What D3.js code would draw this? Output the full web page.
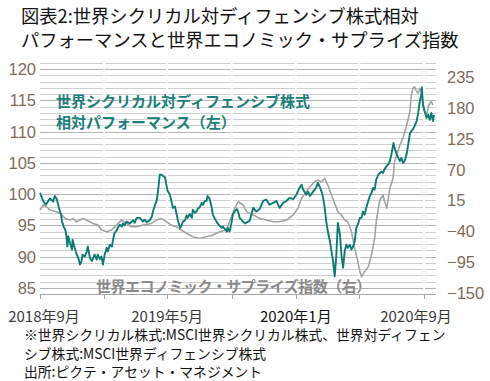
<!DOCTYPE html>
<html><head><meta charset="utf-8">
<script src="https://cdn.jsdelivr.net/npm/d3@7"></script>
<style>
html,body{margin:0;padding:0;background:#fff;}
svg{display:block;font-family:"Noto Sans CJK JP","Noto Sans",sans-serif;}
</style></head>
<body>
<svg id="c" width="490" height="381"></svg>
<script>
const titleLines = ["図表2:世界シクリカル対ディフェンシブ株式相対","パフォーマンスと世界エコノミック・サプライズ指数"];
const noteLines = ["※世界シクリカル株式:MSCI世界シクリカル株式、世界対ディフェン","シブ株式:MSCI世界ディフェンシブ株式","出所:ピクテ・アセット・マネジメント"];
const leftTicks = [85,90,95,100,105,110,115,120];
const rightTicks = [-150,-95,-40,15,70,125,180,235];
const xTickDates = ["18-09-01","19-01-01","19-05-01","19-09-01","20-01-01","20-05-01","20-09-01"];
const xLabels = [["18-09-01","2018年9月"],["19-05-01","2019年5月"],["20-01-01","2020年1月"],["20-09-01","2020年9月"]];
const cyclicalLabel = ["世界シクリカル対ディフェンシブ株式","相対パフォーマンス（左）"];
const surpriseLabel = "世界エコノミック・サプライズ指数（右）";

// relative performance (left axis)
const relPerf = [
["18-09-01",100.2],["18-09-07",98.9],["18-09-12",98.3],["18-09-16",98.8],["18-09-20",99.3],["18-09-26",98.8],["18-09-29",99.7],["18-10-03",99.2],["18-10-07",97.8],["18-10-11",96.7],["18-10-13",95.6],["18-10-16",94.8],["18-10-19",94.3],["18-10-21",93.5],["18-10-23",91.6],["18-10-25",93.2],["18-10-28",92.2],["18-11-01",91.1],["18-11-02",92.7],["18-11-06",91.4],["18-11-10",90.3],["18-11-14",89.5],["18-11-16",88.7],["18-11-19",89.2],["18-11-21",90.3],["18-11-25",90.0],["18-11-29",90.8],["18-12-01",91.6],["18-12-05",89.8],["18-12-09",89.3],["18-12-14",90.3],["18-12-18",89.5],["18-12-20",90.3],["18-12-24",89.6],["18-12-27",90.0],["18-12-30",88.7],
["19-01-02",90.3],["19-01-06",91.4],["19-01-08",90.8],["19-01-12",91.9],["19-01-16",91.6],["19-01-18",92.7],["19-01-21",93.8],["19-01-25",94.2],["19-01-27",94.6],["19-01-31",95.1],["19-02-04",94.8],["19-02-06",95.3],["19-02-09",95.0],["19-02-13",95.6],["19-02-19",95.3],["19-02-23",95.6],["19-02-25",95.8],["19-02-28",95.4],["19-03-04",96.2],["19-03-10",96.2],["19-03-16",95.6],["19-03-19",95.9],["19-03-23",95.5],["19-03-29",95.8],["19-04-02",96.4],["19-04-04",97.2],["19-04-08",98.3],["19-04-11",98.9],["19-04-13",100.0],["19-04-15",101.5],["19-04-17",103.1],["19-04-21",103.1],["19-04-23",102.9],["19-04-27",102.7],["19-04-30",101.3],["19-05-02",100.5],["19-05-06",100.0],["19-05-10",98.6],["19-05-12",97.8],["19-05-16",98.0],["19-05-20",96.4],["19-05-22",95.6],["19-05-26",94.6],["19-05-29",95.1],["19-05-31",95.6],["19-06-04",95.8],["19-06-07",96.6],["19-06-09",96.2],["19-06-13",96.8],["19-06-17",96.2],["19-06-19",97.5],["19-06-23",97.0],["19-06-26",97.2],["19-06-28",97.6],["19-07-02",97.9],["19-07-06",98.6],["19-07-08",98.3],["19-07-12",98.9],["19-07-15",98.9],["19-07-17",99.7],["19-07-21",99.2],["19-07-25",97.8],["19-07-27",96.7],["19-07-31",96.0],["19-08-03",95.6],["19-08-05",95.3],["19-08-09",94.9],["19-08-13",94.6],["19-08-15",94.8],["19-08-19",94.4],["19-08-23",94.0],["19-08-24",94.6],["19-08-28",94.0],["19-09-01",95.6],["19-09-03",96.7],["19-09-07",97.3],["19-09-11",97.6],["19-09-13",97.2],["19-09-16",96.2],["19-09-26",95.3],["19-10-05",95.7],["19-10-12",97.8],["19-10-18",97.2],["19-10-24",97.6],["19-10-31",98.9],["19-11-06",99.1],["19-11-12",98.3],["19-11-19",98.6],["19-11-25",98.9],["19-12-01",97.8],["19-12-08",98.6],["19-12-14",98.9],["19-12-20",99.4],["19-12-27",99.2],
["20-01-02",99.9],["20-01-08",101.0],["20-01-12",101.5],["20-01-15",100.7],["20-01-21",99.9],["20-01-24",100.4],["20-01-28",99.7],["20-02-03",100.4],["20-02-09",101.1],["20-02-12",101.8],["20-02-16",101.1],["20-02-19",100.4],["20-02-22",99.4],["20-02-25",97.8],["20-02-28",95.6],["20-03-02",94.0],["20-03-06",92.4],["20-03-09",90.8],["20-03-12",89.2],["20-03-15",86.8],["20-03-18",90.1],["20-03-21",95.4],["20-03-25",93.5],["20-03-28",90.1],["20-03-31",88.2],["20-04-03",90.8],["20-04-06",91.9],["20-04-09",91.4],["20-04-13",91.9],["20-04-16",91.1],["20-04-19",91.6],["20-04-22",92.4],["20-04-25",94.6],["20-04-28",95.1],["20-05-02",96.2],["20-05-05",96.2],["20-05-08",97.2],["20-05-11",96.7],["20-05-14",97.8],["20-05-18",98.9],["20-05-21",99.7],["20-05-24",100.2],["20-05-27",101.0],["20-05-30",100.7],["20-06-02",102.3],["20-06-06",103.1],["20-06-09",103.4],["20-06-12",103.6],["20-06-15",103.4],["20-06-18",104.0],["20-06-22",104.5],["20-06-25",104.8],["20-06-28",105.3],["20-07-01",106.4],["20-07-04",107.7],["20-07-05",108.2],["20-07-07",107.4],["20-07-11",106.4],["20-07-14",105.8],["20-07-17",105.3],["20-07-20",105.8],["20-07-23",105.0],["20-07-26",105.3],["20-07-30",106.4],["20-08-02",108.0],["20-08-05",109.6],["20-08-08",110.1],["20-08-11",110.4],["20-08-14",110.9],["20-08-18",111.7],["20-08-21",113.0],["20-08-24",114.9],["20-08-27",116.0],["20-08-28",117.1],["20-08-30",114.4],["20-09-02",113.3],["20-09-06",112.2],["20-09-09",112.7],["20-09-12",111.9],["20-09-15",113.0],["20-09-18",111.7],["20-09-20",112.7]
];

// economic surprise index (right axis)
const surprise = [
["18-09-01",-2],["18-09-07",6.8],["18-09-13",4],["18-09-20",-2],["18-10-02",-5],["18-10-09",-8],["18-10-19",-17],["18-10-28",-20],["18-11-03",-17],["18-11-09",-23],["18-11-16",-20],["18-11-22",-17],["18-11-28",-20],["18-12-11",-26],["18-12-21",-29],["18-12-27",-37.7],
["19-01-06",-40.8],["19-01-15",-37.7],["19-01-25",-29],["19-02-03",-20],["19-02-13",-26],["19-02-22",-32],["19-03-04",-32],["19-03-16",-29],["19-04-01",-26],["19-04-11",-20],["19-04-20",-17],["19-04-30",-23],["19-05-09",-29],["19-05-19",-32],["19-05-28",-37.7],["19-06-07",-43.6],["19-06-19",-49.7],["19-07-02",-52.5],["19-07-15",-49.7],["19-07-27",-46.7],["19-08-09",-40.8],["19-08-22",-37.7],["19-08-28",-23],["19-09-04",-5],["19-09-13",12.7],["19-09-23",6.8],["19-09-29",-5],["19-10-12",-11],["19-10-24",-17],["19-11-06",-20],["19-11-19",-23],["19-12-01",-23],["19-12-14",-20],["19-12-27",-11],
["20-01-05",1],["20-01-12",18.7],["20-01-21",30.5],["20-01-31",42.4],["20-02-06",48.4],["20-02-12",51],["20-02-19",48],["20-02-25",54.4],["20-03-02",42],["20-03-09",24.6],["20-03-15",10],["20-03-21",-5],["20-03-28",-11],["20-04-03",-20],["20-04-09",-23],["20-04-16",-40.8],["20-04-22",-70],["20-04-28",-94],["20-05-02",-112],["20-05-05",-121],["20-05-11",-112],["20-05-18",-103],["20-05-24",-82],["20-05-30",-52.5],["20-06-02",-23],["20-06-06",1],["20-06-09",15.7],["20-06-15",24.6],["20-06-18",13],["20-06-22",1],["20-06-25",18],["20-06-28",36.6],["20-07-04",54.4],["20-07-07",84],["20-07-11",96],["20-07-17",113.7],["20-07-23",125.6],["20-07-30",149],["20-08-05",173],["20-08-08",203],["20-08-11",214.8],["20-08-14",217.6],["20-08-18",209],["20-08-21",206],["20-08-24",214.8],["20-08-27",209],["20-08-30",185],["20-09-02",173],["20-09-06",167],["20-09-09",182],["20-09-12",188],["20-09-15",191],["20-09-18",185]
];

const parse = d3.timeParse("%y-%m-%d");
const svg = d3.select("#c");
const plot = {left:40, right:436, top:62, bottom:294};

const x = d3.scaleTime().domain([parse("18-09-01"), parse("20-09-01")]).range([40, 424]);
const yL = d3.scaleLinear().domain([84,121]).range([294,63]);
const yR = d3.scaleLinear().domain([-150,235]).range([293,77]);

// gridlines
const grid = d3.range(84,122,1);
svg.append("g").selectAll("line").data(grid).join("line")
  .attr("x1",plot.left).attr("x2",plot.right)
  .attr("y1",d=>Math.round(yL(d))+0.5).attr("y2",d=>Math.round(yL(d))+0.5)
  .attr("stroke",d=>d%5===0?"#b4b4b4":"#cfcfcf").attr("stroke-width",1);

// white gaps at ticks
const tdates = xTickDates.map(parse);
svg.append("g").selectAll("line").data(tdates.slice(1)).join("line")
  .attr("x1",d=>x(d)).attr("x2",d=>x(d)).attr("y1",plot.top).attr("y2",plot.bottom-1)
  .attr("stroke","#fff").attr("stroke-width",2);

// x axis line & ticks
svg.append("line").attr("x1",plot.left).attr("x2",plot.right).attr("y1",294.5).attr("y2",294.5).attr("stroke","#a6a6a6");
svg.append("g").selectAll("line").data(tdates).join("line")
  .attr("x1",d=>Math.round(x(d))+0.5).attr("x2",d=>Math.round(x(d))+0.5).attr("y1",294).attr("y2",299)
  .attr("stroke","#a6a6a6");

// lines
const grayLine = d3.line().x(d=>x(parse(d[0]))).y(d=>yR(d[1]));
const tealLine = d3.line().x(d=>x(parse(d[0]))).y(d=>yL(d[1]));
svg.append("path").datum(surprise).attr("d",grayLine).attr("fill","none").attr("stroke","#a3a3a3").attr("stroke-width",1.6).attr("stroke-linejoin","round");
svg.append("path").datum(relPerf).attr("d",tealLine).attr("fill","none").attr("stroke","#0b7b73").attr("stroke-width",1.9).attr("stroke-linejoin","round");

// axis labels
svg.append("g").selectAll("text").data(leftTicks).join("text")
  .attr("x",36).attr("y",d=>yL(d)).attr("text-anchor","end").attr("dominant-baseline","central")
  .attr("font-family","Liberation Sans, Arial, sans-serif").attr("font-size",16.5).attr("fill","#7d6c5c").text(d=>d);
svg.append("g").selectAll("text").data(rightTicks).join("text")
  .attr("x",447).attr("y",d=>yR(d)).attr("text-anchor","start").attr("dominant-baseline","central")
  .attr("font-family","Liberation Sans, Arial, sans-serif").attr("font-size",16.5).attr("fill","#7d6c5c").text(d=>d<0?"\u2212"+Math.abs(d):d);
svg.append("g").selectAll("text").data(xLabels).join("text")
  .attr("x",d=>Math.min(Math.max(x(parse(d[0])),44),416)).attr("y",315).attr("text-anchor","middle").attr("dominant-baseline","central")
  .attr("font-size",15).attr("fill",(d,i)=>i===2?"#111":"#3a3a3a").text(d=>d[1]);

// series labels
svg.append("g").selectAll("text").data(cyclicalLabel).join("text")
  .attr("x",56).attr("y",(d,i)=>100+i*21).attr("dominant-baseline","central")
  .attr("font-size",15).attr("font-weight","bold").attr("fill","#1a8079").text(d=>d);
svg.append("text").attr("x",96).attr("y",285).attr("dominant-baseline","central")
  .attr("font-size",15).attr("font-weight","bold").attr("letter-spacing",-0.5).attr("fill","#8a8a8a").text(surpriseLabel);

// title (one text element, two lines)
const title = svg.append("text").attr("font-size",18.3).attr("fill","#111");
title.selectAll("tspan").data(titleLines).join("tspan")
  .attr("x",21).attr("y",(d,i)=>23+i*23.5).text(d=>d);

// notes
svg.append("g").selectAll("text").data(noteLines).join("text")
  .attr("x",24).attr("y",(d,i)=>334+i*18.5).attr("dominant-baseline","central")
  .attr("font-size",13.8).attr("fill","#111").text(d=>d);
</script>
</body></html>
